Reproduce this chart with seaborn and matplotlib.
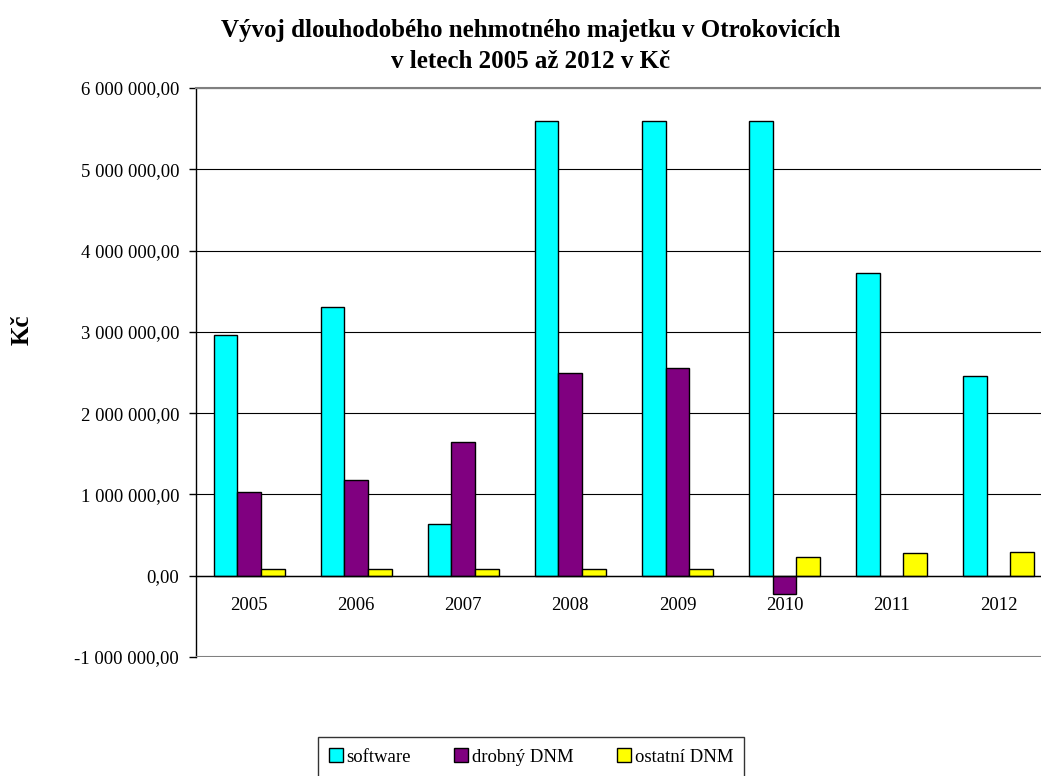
import numpy as np
import pandas as pd
import matplotlib
matplotlib.use('Agg')
import matplotlib.pyplot as plt
from matplotlib.patches import Patch
from matplotlib.ticker import FuncFormatter
import seaborn as sns

# data (Kč)
years = ['2005', '2006', '2007', '2008', '2009', '2010', '2011', '2012']
software = [2960000, 3300000, 630000, 5590000, 5590000, 5590000, 3730000, 2460000]
drobny_dnm = [1030000, 1180000, 1650000, 2490000, 2550000, -225000, 0, 0]
ostatni_dnm = [78000, 78000, 78000, 78000, 78000, 225000, 280000, 290000]
series_names = ['software', 'drobný DNM', 'ostatní DNM']
series_colors = ['#00FFFF', '#800080', '#FFFF00']
y_ticks = [-1000000, 0, 1000000, 2000000, 3000000, 4000000, 5000000, 6000000]

df = pd.DataFrame({
    'rok': years * 3,
    'hodnota': software + drobny_dnm + ostatni_dnm,
    'druh': [series_names[0]] * 8 + [series_names[1]] * 8 + [series_names[2]] * 8,
})

sns.set_style('white')
plt.rcParams['font.family'] = ['Liberation Serif', 'DejaVu Serif']
plt.rcParams['text.color'] = 'black'
plt.rcParams['xtick.color'] = 'black'
plt.rcParams['ytick.color'] = 'black'

fig = plt.figure(figsize=(10.41, 7.76), dpi=100)
ax = fig.add_axes([0.188, 0.1534, 0.8226, 0.7332])

sns.barplot(data=df, x='rok', y='hodnota', hue='druh', palette=series_colors,
            hue_order=series_names, width=0.665, saturation=1, edgecolor='black',
            linewidth=1.0, errorbar=None, legend=False, ax=ax, zorder=3)

ax.set_xlim(-0.5, 7.5)
ax.set_ylim(y_ticks[0], y_ticks[-1])
ax.set_yticks(y_ticks)
ax.yaxis.set_major_formatter(FuncFormatter(
    lambda v, p: f"{v:,.2f}".replace(',', ' ').replace('.', ',')))
ax.grid(axis='y', color='black', linewidth=0.8, zorder=0)
ax.grid(axis='x', visible=False)

# x axis crosses at zero
ax.spines['bottom'].set_position(('data', 0))
ax.spines['bottom'].set_color('black')
ax.spines['bottom'].set_linewidth(1.0)
ax.spines['bottom'].set_zorder(4)
ax.spines['left'].set_color('black')
ax.spines['left'].set_linewidth(1.0)
ax.spines['top'].set_color('#808080')
ax.spines['top'].set_linewidth(1.5)
ax.spines['right'].set_visible(False)
ax.axhline(y_ticks[0], color='#808080', linewidth=1.5, zorder=5)

ax.set_xticks(np.arange(0.5, 7.5, 1), minor=True)
ax.tick_params(axis='x', which='major', length=0, pad=15, labelsize=13.5,
               labelcolor='black')
ax.tick_params(axis='x', which='minor', length=5, width=1, direction='out', color='black')
ax.tick_params(axis='y', length=5, width=1, direction='out', pad=7, labelsize=13.5,
               left=True, color='black', labelcolor='black')
ax.set_xlabel('')
ax.set_ylabel('')

fig.text(531 / 1041, 1 - 46 / 776,
         'Vývoj dlouhodobého nehmotného majetku v Otrokovicích\nv letech 2005 až 2012 v Kč',
         ha='center', va='center', fontsize=18, fontweight='bold', linespacing=1.4,
         color='black')
fig.text(22 / 1041, 1 - 330 / 776, 'Kč', rotation=90, ha='center', va='center',
         fontsize=18, fontweight='bold', color='black')

handles = [Patch(facecolor=c, edgecolor='black', linewidth=1.0, label=n)
           for n, c in zip(series_names, series_colors)]
leg = fig.legend(handles=handles, loc='center', bbox_to_anchor=(531 / 1041, 1 - 757 / 776),
                 ncol=3, frameon=True, fancybox=False, edgecolor='black', fontsize=13.5,
                 handlelength=0.75, handleheight=0.75, handletextpad=0.2, columnspacing=2.3,
                 borderpad=0.6, borderaxespad=0)
leg.get_frame().set_linewidth(1.0)
for t in leg.get_texts():
    t.set_color('black')

fig.savefig('out.png', dpi=100)
